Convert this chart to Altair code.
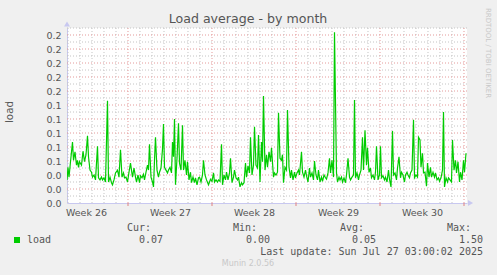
import altair as alt
import pandas as pd

# ---- data (time in hours since the left edge of the plot) ----
hours = [0, 2, 4, 7, 11, 13, 16, 19, 21, 23, 25, 29, 32, 35, 38, 41, 43, 46, 49, 51, 54, 57, 61, 63, 66, 69, 71, 74,
         77, 81, 83, 86, 89, 91, 94, 97, 101, 104, 107, 110, 113, 115, 118, 121, 124, 127, 131, 134, 137,
         139, 142, 145, 147, 150, 153, 155, 158, 161, 163, 165, 168, 171, 173, 175, 177, 180, 183, 185, 188, 191,
         193, 195, 198, 201, 203, 206, 209, 211, 213, 215, 217, 220, 223, 225, 228, 231, 233, 236, 239, 241, 244,
         247, 249, 252, 255, 257, 260, 263, 265, 268, 271, 273,
         276, 279, 283, 285, 287, 290, 293, 295, 298, 301, 303, 306, 309, 311, 314, 317, 319, 322, 325, 327, 330,
         333, 335, 338, 341, 343, 346, 349, 351, 354, 357, 359, 362, 365, 367, 370, 373, 375, 378, 381, 383, 386,
         389, 391, 393, 396, 399, 401, 404, 407, 409,
         413, 415, 418, 421, 423, 426, 429, 431, 433, 436, 439, 441, 444, 447, 449, 452, 455, 457, 460, 463, 465,
         469, 471, 474, 477, 479, 482, 485, 487, 490, 493, 495, 498, 501, 503, 506, 509, 511, 514, 517, 519, 522,
         525, 527, 530, 533, 535, 539, 541, 544,
         546, 549, 551, 554, 557, 559, 562, 565, 567, 570, 573, 575, 577, 580, 583, 585, 588, 591, 593, 596, 599,
         601, 604, 607, 609, 612, 615, 617, 619, 622, 625, 627, 629, 632, 635, 637, 640, 643, 645, 648, 651, 653,
         656, 659, 661, 664, 667, 669, 672, 675, 677, 680,
         682, 685, 687, 690, 693, 695, 698, 701, 703, 706, 708, 711, 713, 716, 719, 721, 724, 727, 729, 732, 735,
         737, 740, 743, 745, 748, 751, 753, 755, 758, 761, 763, 766, 769, 771, 774, 777, 779, 782, 785, 787, 790,
         793, 795, 798]

load = [0.033, 0.051, 0.037, 0.059, 0.087, 0.061, 0.073, 0.054, 0.061, 0.051, 0.059, 0.054, 0.074, 0.059, 0.069,
        0.096, 0.066, 0.047, 0.044, 0.037, 0.040, 0.033, 0.081, 0.036, 0.033, 0.037, 0.033, 0.036, 0.030, 0.146,
        0.030, 0.037, 0.029, 0.026, 0.033, 0.043, 0.047, 0.037, 0.076, 0.037, 0.043, 0.036, 0.037, 0.030, 0.044,
        0.057, 0.037, 0.050, 0.037,
        0.030, 0.040, 0.029, 0.039, 0.036, 0.041, 0.033, 0.044, 0.054, 0.047, 0.084, 0.037, 0.030, 0.023, 0.061,
        0.094, 0.047, 0.037, 0.044, 0.050, 0.077, 0.113, 0.051, 0.047, 0.043, 0.047, 0.051, 0.043, 0.087, 0.066,
        0.120, 0.026, 0.064, 0.114, 0.057, 0.047, 0.111, 0.047, 0.061, 0.040, 0.059, 0.033, 0.044, 0.029, 0.037,
        0.029, 0.036, 0.026, 0.036, 0.037, 0.030, 0.040, 0.061,
        0.040, 0.033, 0.026, 0.030, 0.034, 0.031, 0.043, 0.030, 0.033, 0.030, 0.033, 0.031, 0.084, 0.026, 0.040,
        0.033, 0.044, 0.033, 0.043, 0.064, 0.029, 0.037, 0.047, 0.036, 0.033, 0.037, 0.023, 0.029, 0.026, 0.029,
        0.057, 0.037, 0.053, 0.043, 0.094, 0.040, 0.054, 0.109, 0.054, 0.050, 0.097, 0.030, 0.087, 0.059, 0.153,
        0.047, 0.069, 0.051, 0.073, 0.059, 0.079,
        0.037, 0.043, 0.040, 0.044, 0.129, 0.064, 0.061, 0.069, 0.029, 0.051, 0.047, 0.133, 0.051, 0.036, 0.047,
        0.033, 0.044, 0.036, 0.043, 0.047, 0.040, 0.073, 0.044, 0.037, 0.047, 0.039, 0.030, 0.050, 0.037, 0.043,
        0.033, 0.060, 0.040, 0.033, 0.047, 0.030, 0.037, 0.031, 0.040, 0.036, 0.034, 0.043, 0.064, 0.043, 0.061,
        0.037, 0.244, 0.043, 0.030, 0.037,
        0.033, 0.037, 0.030, 0.036, 0.029, 0.040, 0.064, 0.037, 0.033, 0.037, 0.040, 0.147, 0.036, 0.043, 0.033,
        0.040, 0.047, 0.094, 0.047, 0.104, 0.054, 0.079, 0.044, 0.050, 0.036, 0.040, 0.033, 0.044, 0.081, 0.033,
        0.040, 0.081, 0.036, 0.039, 0.033, 0.037, 0.030, 0.047, 0.034, 0.023, 0.103, 0.040, 0.043, 0.033, 0.050,
        0.066, 0.036, 0.044, 0.040, 0.030, 0.040, 0.044,
        0.040, 0.036, 0.043, 0.047, 0.119, 0.036, 0.040, 0.037, 0.094, 0.090, 0.051, 0.071, 0.043, 0.044, 0.024,
        0.057, 0.037, 0.051, 0.037, 0.044, 0.037, 0.043, 0.033, 0.036, 0.031, 0.036, 0.047, 0.130, 0.023, 0.036,
        0.030, 0.036, 0.033, 0.030, 0.090, 0.047, 0.061, 0.043, 0.059, 0.030, 0.044, 0.033, 0.061, 0.044, 0.071]

week_numbers = [26, 27, 28, 29, 30]
week_centers = [38, 206, 374, 542, 710]
week_starts = [122, 290, 458, 626, 794]
day_starts = [2, 26, 50, 74, 98, 146, 170, 194, 218, 242, 266, 314, 338, 362, 386, 410, 434, 482, 506, 530,
              554, 578, 602, 650, 674, 698, 722, 746, 770]
y_ticks = [0.00, 0.02, 0.04, 0.06, 0.08, 0.10, 0.12, 0.14, 0.16, 0.18, 0.20, 0.22, 0.24]
y_major = [0.02, 0.04, 0.06, 0.08, 0.10, 0.12, 0.14, 0.16, 0.18, 0.20, 0.22, 0.24]
y_minor = [0.01, 0.03, 0.05, 0.07, 0.09, 0.11, 0.13, 0.15, 0.17, 0.19, 0.21, 0.23, 0.25]
stat_names = ["Cur:", "Min:", "Avg:", "Max:"]
stat_values = [0.07, 0.00, 0.05, 1.50]
last_update = "Sun Jul 27 03:00:02 2025"

W, H = 400, 175
PL, PT = 67, 28
GRAY = "#555555"
AXIS_BLUE = "#c8c8f0"

xs = alt.Scale(domain=[0, 800], nice=False, zero=False)
ys = alt.Scale(domain=[0, 0.25], nice=False, zero=True)

xaxis = alt.Axis(values=week_centers, labelExpr="'Week ' + (26 + round((datum.value - 38) / 168))",
                 ticks=False, grid=False, domainColor=AXIS_BLUE, labelFontSize=9.5, labelColor=GRAY,
                 labelFont="DejaVu Sans", labelPadding=4, title=None, labelFlush=False)
yaxis = alt.Axis(values=y_ticks, format=".1f", ticks=False, grid=False, domainColor=AXIS_BLUE,
                 labelFontSize=9.5, labelColor=GRAY, labelFont="DejaVu Sans", labelPadding=6,
                 title=None, labelOverlap=False)

one = pd.DataFrame({"k": [0]})

MINOR = "#c4c4c4"
MAJOR = "#e49a9a"
minor_v = alt.Chart(pd.DataFrame({"h": day_starts})).mark_rule(
    color=MINOR, strokeDash=[1, 2], strokeWidth=1).encode(x=alt.X("h:Q", scale=xs, axis=xaxis))
minor_h = alt.Chart(pd.DataFrame({"v": y_minor})).mark_rule(
    color=MINOR, strokeDash=[1, 2], strokeWidth=1).encode(y=alt.Y("v:Q", scale=ys, axis=yaxis))
major_v = alt.Chart(pd.DataFrame({"h": week_starts})).mark_rule(
    color=MAJOR, strokeDash=[1, 2], strokeWidth=1).encode(x=alt.X("h:Q", scale=xs, axis=xaxis))
major_h = alt.Chart(pd.DataFrame({"v": y_major})).mark_rule(
    color=MAJOR, strokeDash=[1, 2], strokeWidth=1).encode(y=alt.Y("v:Q", scale=ys, axis=yaxis))
week_ticks = alt.Chart(pd.DataFrame({"h": week_starts})).mark_rule(
    color="#e08080", strokeWidth=1).encode(x=alt.X("h:Q", scale=xs, axis=xaxis),
                                          y=alt.value(H), y2=alt.value(H + 3))

line = alt.Chart(pd.DataFrame({"h": hours, "load": load})).mark_line(
    color="#00CC00", strokeWidth=1.2, clip=True).encode(
    x=alt.X("h:Q", scale=xs, axis=xaxis),
    y=alt.Y("load:Q", scale=ys, axis=yaxis))

arrow_up = alt.Chart(one).mark_point(shape="triangle-up", filled=True, size=35, color=AXIS_BLUE, opacity=1).encode(
    x=alt.value(0), y=alt.value(-4))
arrow_right = alt.Chart(one).mark_point(shape="triangle-right", filled=True, size=35, color=AXIS_BLUE, opacity=1).encode(
    x=alt.value(W + 3.5), y=alt.value(H))


def txt(s, x, y, size=10, font="DejaVu Sans", align="left", color=GRAY, angle=0):
    kw = dict(text=s, fontSize=size, font=font, align=align, baseline="middle", color=color)
    if angle:
        kw["angle"] = angle
    return alt.Chart(one).mark_text(**kw).encode(x=alt.value(x - PL), y=alt.value(y - PT))


texts = [
    txt("Load average - by month", 248, 19, size=12.6, align="center"),
    txt("load", 10, 112, size=10.3, align="center", angle=270),
    txt("RRDTOOL / TOBI OETIKER", 488, 53, size=7, align="center", color="#c8c8c8", angle=90),
    txt("load", 27, 239.5, font="DejaVu Sans Mono"),
    txt("Last update: " + last_update, 483, 252, font="DejaVu Sans Mono", align="right"),
    txt("Munin 2.0.56", 248, 264, size=8, align="center", color="#c8c8c8"),
]
head_left = [127, 233, 340, 447]
val_right = [163, 270, 376, 483]
for name, val, hx, vx in zip(stat_names, stat_values, head_left, val_right):
    texts.append(txt(name, hx, 228, font="DejaVu Sans Mono"))
    texts.append(txt(f"{val:.2f}", vx, 239.5, font="DejaVu Sans Mono", align="right"))

swatch = alt.Chart(one).mark_rect(color="#00CC00").encode(
    x=alt.value(14 - PL), x2=alt.value(20 - PL), y=alt.value(237 - PT), y2=alt.value(243 - PT))

chart = alt.layer(minor_v, minor_h, major_v, major_h, week_ticks, line, arrow_up, arrow_right, swatch,
                  *texts).properties(
    width=W, height=H,
    autosize=alt.AutoSizeParams(type="none"),
    padding={"left": PL, "top": PT, "right": 497 - PL - W, "bottom": 275 - PT - H},
    background="#F0F0F0",
).configure_view(fill="white", strokeWidth=0)

chart.save("out.html", embed_options={"renderer": "svg", "actions": False})
